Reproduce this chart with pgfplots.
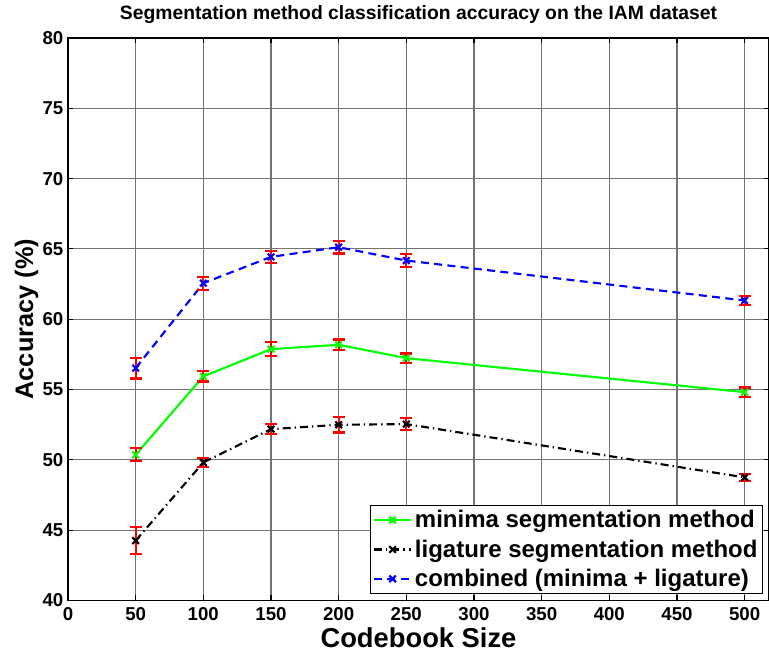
\documentclass[border=0pt]{standalone}
\usepackage{fontspec}
\setmainfont{Liberation Sans}
\usepackage{pgfplots}
\usepackage{pgfplotstable}
\pgfplotsset{compat=1.18}

\pgfplotstableread{
x y e
50 50.36 0.45
100 55.93 0.36
150 57.87 0.50
200 58.18 0.38
250 57.23 0.33
500 54.81 0.33
}\minima
\pgfplotstableread{
x y e
50 44.25 0.98
100 49.81 0.32
150 52.18 0.36
200 52.49 0.55
250 52.54 0.41
500 48.75 0.25
}\ligature
\pgfplotstableread{
x y e
50 56.52 0.74
100 62.56 0.46
150 64.43 0.45
200 65.12 0.45
250 64.17 0.46
500 61.33 0.33
}\combined

\begin{document}
\begin{tikzpicture}
\begin{axis}[
  scale only axis,
  width=526pt, height=422pt,
  xmin=0, xmax=518, ymin=40, ymax=80,
  xtick={0,50,...,500}, ytick={40,45,...,80},
  grid=major,
  major grid style={black!55, line width=0.8pt},
  axis line style={black, line width=0.9pt},
  tick align=inside, major tick length=4pt,
  tick style={black, line width=0.9pt},
  /pgf/number format/assume math mode=true,
  ticklabel style={font=\fontsize{14}{16}\selectfont\bfseries},
  xticklabel style={yshift=-2pt},
  title={Segmentation method classification accuracy on the IAM dataset},
  title style={font=\fontsize{14.5}{16}\selectfont\bfseries, at={(axis description cs:0.5,1)}, anchor=center, yshift=11.5pt},
  xlabel={Codebook Size},
  ylabel={Accuracy (\%)},
  xlabel style={font=\fontsize{20.5}{22}\selectfont\bfseries, at={(axis description cs:0.5,0)}, anchor=center, yshift=-28pt},
  ylabel style={font=\fontsize{19}{22}\selectfont\bfseries, at={(axis description cs:-0.059,0.5)}, anchor=center},
  legend style={at={(axis description cs:0.992,0.0107)}, anchor=south east,
    font=\fontsize{18}{21}\selectfont\bfseries, draw=black, line width=0.8pt,
    inner xsep=2pt, inner ysep=2pt, row sep=3.5pt},
  legend cell align=left,
  legend image code/.code={
    \draw[mark repeat=2,mark phase=2,#1] plot coordinates {(0pt,0pt) (14pt,0pt) (28pt,0pt)};
  },
]
\addplot[green, line width=1.6pt, mark=x, mark size=3.5pt, mark options={solid},
  error bars/.cd, y dir=both, y explicit,
  error bar style={red, line width=1.6pt, solid},
  error mark options={rotate=90, red, mark size=4.5pt, line width=1.6pt, solid}]
  table[x=x, y=y, y error=e] {\minima};
\addlegendentry{minima segmentation method}
\addplot[black, line width=1.6pt, dash pattern=on 6pt off 3pt on 1pt off 3pt, mark=x, mark size=3.5pt, mark options={solid},
  error bars/.cd, y dir=both, y explicit,
  error bar style={red, line width=1.6pt, solid},
  error mark options={rotate=90, red, mark size=4.5pt, line width=1.6pt, solid}]
  table[x=x, y=y, y error=e] {\ligature};
\addlegendentry{ligature segmentation method}
\addplot[blue, line width=1.6pt, dash pattern=on 6pt off 4pt, mark=x, mark size=3.5pt, mark options={solid},
  error bars/.cd, y dir=both, y explicit,
  error bar style={red, line width=1.6pt, solid},
  error mark options={rotate=90, red, mark size=4.5pt, line width=1.6pt, solid}]
  table[x=x, y=y, y error=e] {\combined};
\addlegendentry{combined (minima + ligature)}
\end{axis}
\pgfresetboundingbox
\path ([shift={(-51pt,-40.5pt)}]current axis.south west) rectangle ([shift={(0pt,28.5pt)}]current axis.north east);
\end{tikzpicture}
\end{document}
